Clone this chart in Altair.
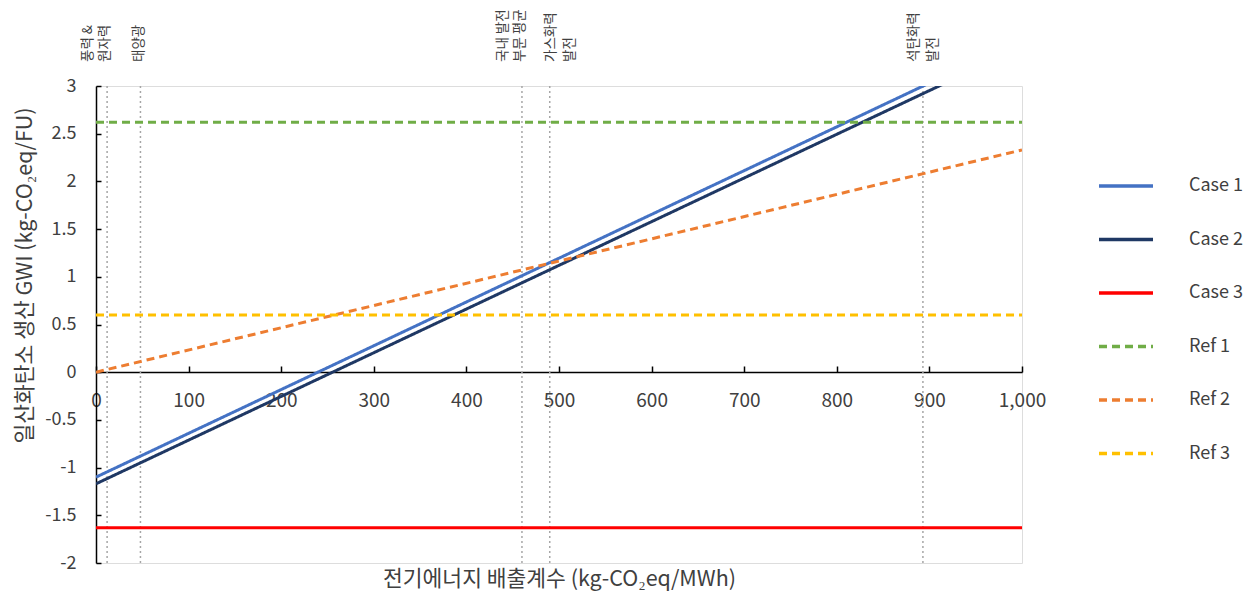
import altair as alt
import pandas as pd

# ---- data ----
series = ["Case 1", "Case 2", "Case 3", "Ref 1", "Ref 2", "Ref 3"]
x_points = [0, 1000]
y_at_start = [-1.10, -1.17, -1.63, 2.62, 0.00, 0.60]
y_at_end = [3.49, 3.41, -1.63, 2.62, 2.33, 0.60]
colors = ["#4472C4", "#1F3864", "#FF0000", "#70AD47", "#ED7D31", "#FFC000"]
dashes = [[1, 0], [1, 0], [1, 0], [8, 5], [8, 5], [8, 5]]

marker_x = [12, 48, 460, 490, 893]
marker_line1 = ["풍력 &", "태양광", "국내 발전", "가스화력", "석탄화력"]
marker_line2 = ["원자력", "", "부문 평균", "발전", "발전"]

x_ticks = [0, 100, 200, 300, 400, 500, 600, 700, 800, 900, 1000]
y_ticks = [-2, -1.5, -1, -0.5, 0, 0.5, 1, 1.5, 2, 2.5, 3]

rows = []
for s, y0, y1 in zip(series, y_at_start, y_at_end):
    rows.append({"series": s, "x": x_points[0], "y": y0})
    rows.append({"series": s, "x": x_points[1], "y": y1})
lines_df = pd.DataFrame(rows)
markers_df = pd.DataFrame({"x": marker_x, "line1": marker_line1, "line2": marker_line2})

FONT = "Noto Sans CJK KR"
TXT = "#404040"

xs = alt.Scale(domain=[0, 1000], nice=False, zero=False)
ys = alt.Scale(domain=[-2, 3], nice=False, zero=False)

x_axis = alt.Axis(
    orient="bottom", offset=-191, values=x_ticks, format=",.0f", grid=False,
    domainColor="#000", domainWidth=1.5, tickColor="#000", tickWidth=1.5,
    tickSize={"expr": "-6"}, labelPadding=25, labelFlush=False, labelOverlap=False,
    labelFontSize=19, labelColor=TXT, labelFont=FONT,
    title="전기에너지 배출계수 (kg-CO₂eq/MWh)", titleFont=FONT, titleFontSize=21.5,
    titleFontWeight="normal", titleColor=TXT, titleY=207, titleBaseline="middle",
)
y_axis = alt.Axis(
    orient="left", values=y_ticks, labelExpr="toString(datum.value)", grid=False,
    domainColor="#000", domainWidth=1.5, tickColor="#000", tickWidth=1.5,
    tickSize={"expr": "-5"}, labelPadding=25, labelFlush=False, labelOverlap=False,
    labelFontSize=18, labelColor=TXT, labelFont=FONT,
    title="일산화탄소 생산 GWI (kg-CO₂eq/FU)", titleFont=FONT, titleFontSize=21.5,
    titleFontWeight="normal", titleColor=TXT, titleAngle=270, titleX=-71, titleY=189,
    titleBaseline="middle", titleAlign="center",
)

legend = alt.Legend(
    title=None, orient="none", legendX=1001, legendY=71,
    symbolType="stroke", symbolSize=2916, symbolStrokeWidth=3.5,
    labelFontSize=18, labelFont=FONT, labelColor=TXT, labelOffset=34,
    rowPadding=15.5,
)

markers = alt.Chart(markers_df).mark_rule(
    color="#A6A6A6", strokeDash=[2, 3], strokeWidth=1.5
).encode(x=alt.X("x:Q", scale=xs, axis=x_axis))

text_style = dict(angle=270, align="left", baseline="middle", fontSize=13.5,
                  font=FONT, color=TXT, dx=24)


def label_layer(filter_expr, field, dy):
    return alt.Chart(markers_df).transform_filter(filter_expr).mark_text(
        dy=dy, **text_style
    ).encode(x=alt.X("x:Q", scale=xs), y=alt.datum(3, scale=ys), text=f"{field}:N")


two = "datum.line2 != ''"
label_layers = [
    # labels set to the left of their marker line
    label_layer(f"{two} && datum.x < 475", "line1", -19),
    label_layer(f"{two} && datum.x < 475", "line2", -2),
    # label set to the right of its marker line
    label_layer(f"{two} && datum.x >= 475 && datum.x < 700", "line1", 1),
    label_layer(f"{two} && datum.x >= 475 && datum.x < 700", "line2", 20),
    # label centred on its marker line
    label_layer(f"{two} && datum.x >= 700", "line1", -9),
    label_layer(f"{two} && datum.x >= 700", "line2", 10),
    # single-line label
    label_layer("datum.line2 == ''", "line1", -1),
]

lines = alt.Chart(lines_df).mark_line(strokeWidth=3, clip=True).encode(
    x=alt.X("x:Q", scale=xs, axis=x_axis),
    y=alt.Y("y:Q", scale=ys, axis=y_axis),
    color=alt.Color("series:N", scale=alt.Scale(domain=series, range=colors), legend=legend),
    strokeDash=alt.StrokeDash("series:N", scale=alt.Scale(domain=series, range=dashes), legend=legend),
    order=alt.Order("x:Q"),
)

chart = alt.layer(markers, lines, *label_layers).properties(
    width=926, height=477,
    autosize=alt.AutoSizeParams(type="none"),
    padding={"left": 88, "top": 78, "right": 225, "bottom": 29},
).configure_view(stroke="#000", strokeWidth=1.5).configure(background="white")

chart.save("out.html", embed_options={"renderer": "svg", "actions": False})
